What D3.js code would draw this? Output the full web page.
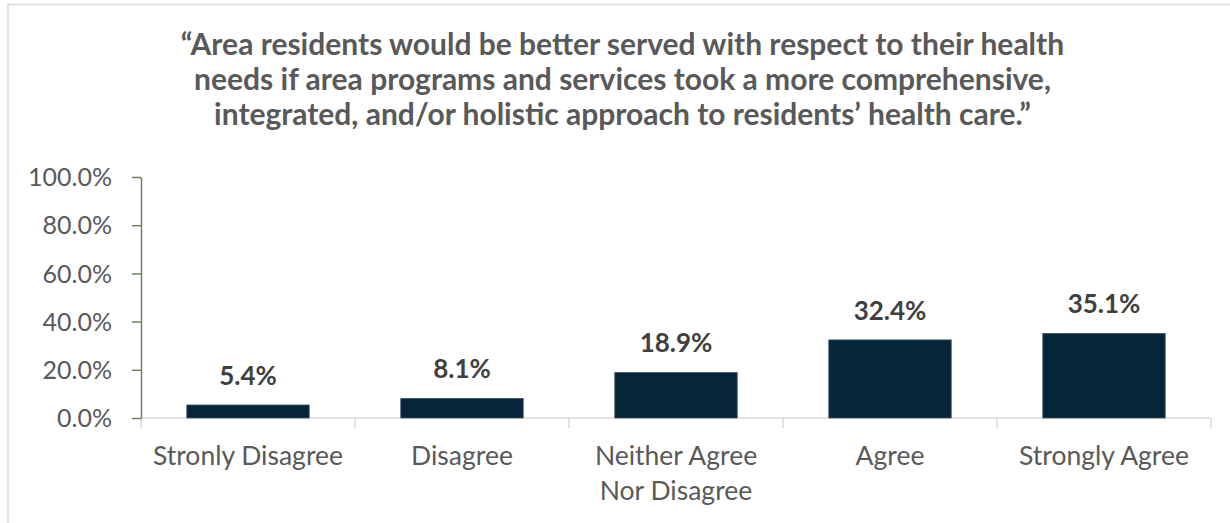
<!DOCTYPE html>
<html><head><meta charset="utf-8">
<script src="https://cdn.jsdelivr.net/npm/d3@7"></script>
<style>html,body{margin:0;padding:0;background:#fff;} svg{display:block;}</style>
</head><body><svg id="chart" width="1230" height="523"></svg>
<script>
// Survey response shares for the statement in the title
const categories = ["Stronly Disagree", "Disagree", "Neither Agree Nor Disagree", "Agree", "Strongly Agree"];
const shares = [0.054, 0.081, 0.189, 0.324, 0.351];
const yTicks = [0, 0.2, 0.4, 0.6, 0.8, 1.0];
const titleLines = [
  "“Area residents would be better served with respect to their health",
  "needs if area programs and services took a more comprehensive,",
  "integrated, and/or holistic approach to residents’ health care.”"
];

const FONT = "Lato, 'Open Sans', sans-serif";
const W = 1230, H = 523;
const plot = { left: 141, right: 1211, top: 177, bottom: 418 };

const svg = d3.select("#chart");
svg.append("rect").attr("width", W).attr("height", H).attr("fill", "#fff");

// chart frame (extends past the right and bottom edges)
svg.append("rect")
  .attr("x", 8).attr("y", 4.5).attr("width", W + 20).attr("height", H + 20)
  .attr("fill", "none").attr("stroke", "#d9d9d9").attr("stroke-width", 1.5);

// title
svg.append("g").selectAll("text").data(titleLines).join("text")
  .attr("x", 622.5).attr("y", (d, i) => 54.5 + i * 35)
  .attr("text-anchor", "middle")
  .attr("font-family", FONT).attr("font-weight", 700).attr("font-size", 30)
  .attr("fill", "#595959")
  .text(d => d);

const x = d3.scaleBand().domain(categories)
  .range([plot.left, plot.right]).paddingInner(0.428).paddingOuter(0.214);
const y = d3.scaleLinear().domain([0, 1]).range([plot.bottom, plot.top]);

// category axis: baseline and boundary ticks
const xAxis = svg.append("g");
xAxis.append("line")
  .attr("x1", plot.left).attr("x2", plot.right)
  .attr("y1", plot.bottom).attr("y2", plot.bottom)
  .attr("stroke", "#d9d9d9").attr("stroke-width", 1.5);
const bounds = d3.range(categories.length + 1).map(i => x.range()[0] + i * x.step());
xAxis.selectAll(".bound").data(bounds).join("line")
  .attr("class", "bound")
  .attr("x1", d => d).attr("x2", d => d)
  .attr("y1", plot.bottom).attr("y2", plot.bottom + 10)
  .attr("stroke", "#d9d9d9").attr("stroke-width", 1.5);

// bars
const data = categories.map((c, i) => ({ c, v: shares[i] }));
svg.append("g").selectAll("rect").data(data).join("rect")
  .attr("x", d => x(d.c)).attr("width", x.bandwidth())
  .attr("y", d => y(d.v)).attr("height", d => y(0) - y(d.v))
  .attr("fill", "#062539").attr("stroke", "#3d5566").attr("stroke-width", 0.8);

// value axis
const yAxis = svg.append("g")
  .attr("transform", `translate(${plot.left},0)`)
  .call(d3.axisLeft(y).tickValues(yTicks).tickFormat(d3.format(".1%"))
    .tickSize(9).tickSizeOuter(0).tickPadding(20));
yAxis.select(".domain").attr("stroke", "#6f825f").attr("stroke-width", 1.5);
yAxis.selectAll(".tick line").attr("stroke", "#6f825f").attr("stroke-width", 1.5);
yAxis.selectAll(".tick text")
  .attr("font-family", FONT).attr("font-size", 25).attr("fill", "#595959")
  .attr("dy", "0.35em");

// value labels
svg.append("g").selectAll("text").data(data).join("text")
  .attr("x", d => x(d.c) + x.bandwidth() / 2)
  .attr("y", d => y(d.v) - 20)
  .attr("text-anchor", "middle")
  .attr("font-family", FONT).attr("font-weight", 700).attr("font-size", 26)
  .attr("fill", "#404040")
  .text(d => d3.format(".1%")(d.v));

// category labels, wrapped to the band width
const catSize = 26.5;
const catG = svg.append("g");
categories.forEach(c => {
  const t = catG.append("text")
    .attr("x", x(c) + x.bandwidth() / 2).attr("y", 465)
    .attr("text-anchor", "middle")
    .attr("font-family", FONT).attr("font-size", catSize).attr("fill", "#595959");
  const words = c.split(" ");
  let line = [], lineNo = 0;
  let tspan = t.append("tspan").attr("x", x(c) + x.bandwidth() / 2).attr("dy", 0);
  words.forEach(w => {
    line.push(w);
    tspan.text(line.join(" "));
    if (tspan.node().getComputedTextLength() > x.step() * 0.94 && line.length > 1) {
      line.pop();
      tspan.text(line.join(" "));
      line = [w];
      lineNo++;
      tspan = t.append("tspan").attr("x", x(c) + x.bandwidth() / 2).attr("dy", 35).text(w);
    }
  });
});
</script></body></html>
